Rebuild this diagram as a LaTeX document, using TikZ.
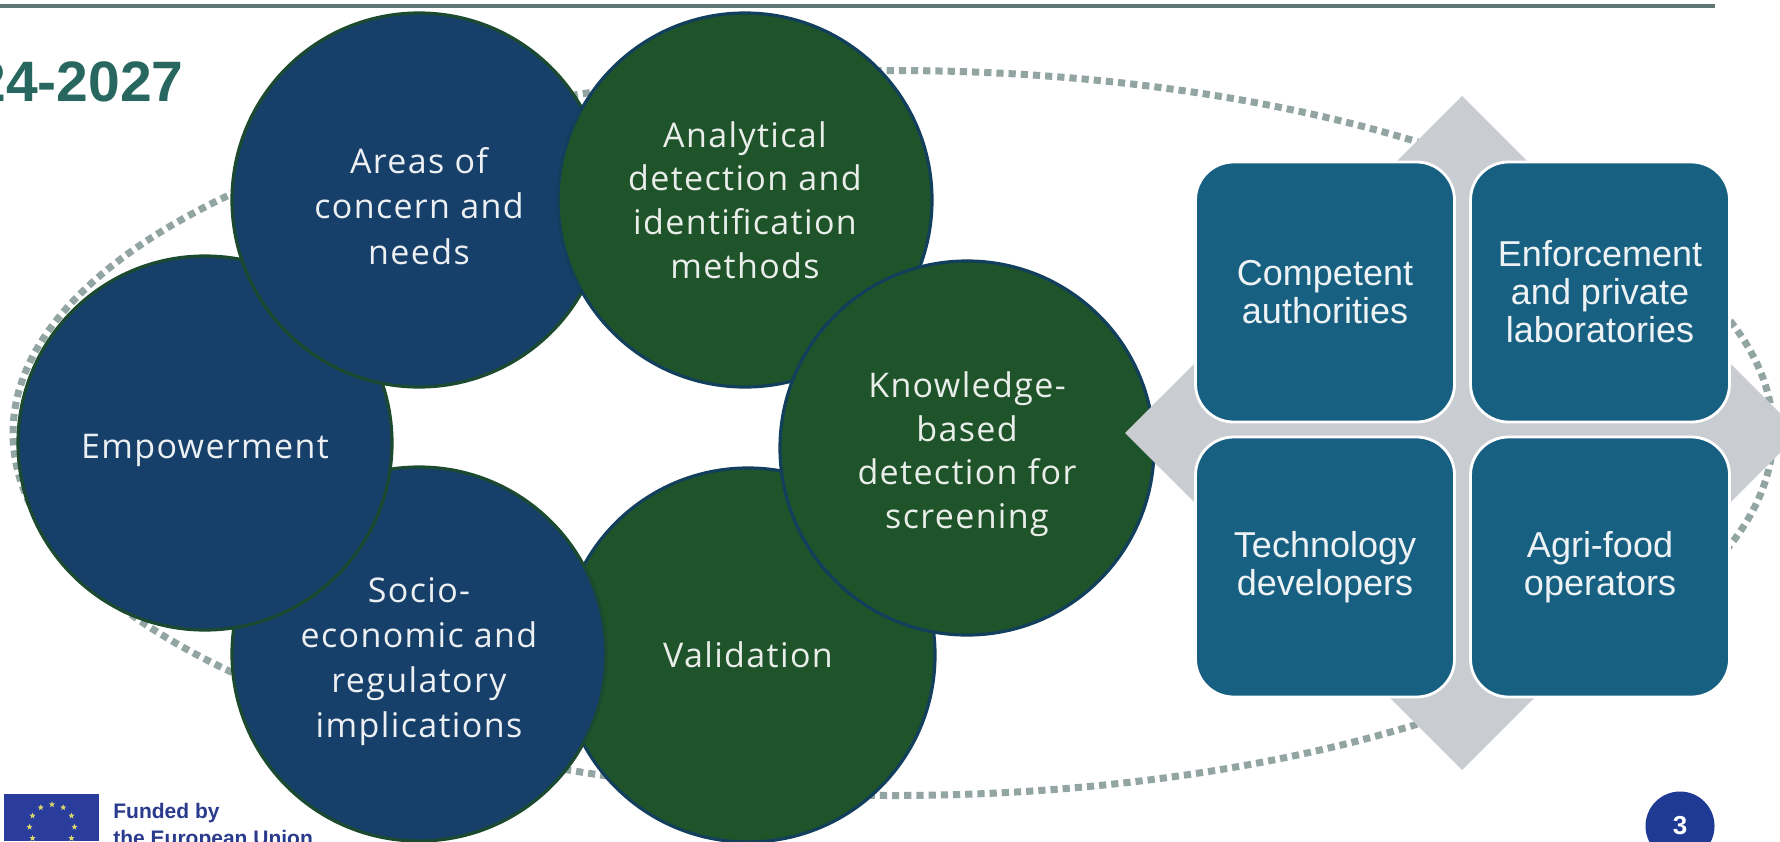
\documentclass[tikz,border=0pt]{standalone}
\usepackage{fontspec}
\usetikzlibrary{shapes.geometric}
\setmainfont{Liberation Sans}
\newfontfamily\circfont[LetterSpace=4]{Open Sans}
\definecolor{navyc}{HTML}{163F69}
\definecolor{greenc}{HTML}{1F5329}
\definecolor{edgegreen}{HTML}{1B4A30}
\definecolor{edgenavy}{HTML}{123F5C}
\definecolor{boxc}{HTML}{186082}
\definecolor{diamondc}{HTML}{C9CCD1}
\definecolor{dotc}{HTML}{93A5A3}
\definecolor{rulec}{HTML}{5F7772}
\definecolor{titlec}{HTML}{27675F}
\definecolor{eublue}{HTML}{2A3D9C}
\definecolor{eustar}{HTML}{D8D96A}
\definecolor{fundc}{HTML}{2A3A8C}
\definecolor{pagec}{HTML}{1F3A93}
\newcommand{\drop}[1]{\rule{0pt}{#1}}
\tikzset{
  ring/.style={circle,minimum size=187pt,inner sep=0pt,outer sep=0pt,line width=1.6pt,align=center,
    font=\fontsize{17pt}{21.8pt}\selectfont\circfont},
  navyring/.style={ring,fill=navyc,draw=edgegreen,text=white!92!navyc,
    font=\fontsize{17pt}{22.6pt}\selectfont\circfont},
  greenring/.style={ring,fill=greenc,draw=edgenavy,text=white!90!greenc},
  actor/.style={rectangle,rounded corners=19pt,minimum width=129.5pt,minimum height=130pt,inner sep=0pt,
    fill=boxc,draw=white,line width=1.4pt,align=center,text=white!92!boxc,
    font=\fontsize{18pt}{19pt}\selectfont},
  eustarshape/.style={star,star points=5,star point ratio=2.4,fill=eustar,inner sep=0pt,minimum size=3.2pt}
}
\begin{document}
\begin{tikzpicture}[x=0.5pt,y=-0.5pt]
\useasboundingbox (0,0) rectangle (1780,841);
\clip (0,0) rectangle (1780,841);
\fill[white] (0,0) rectangle (1780,841);
\fill[rulec] (0,4) rectangle (1715,7.5);
\node[anchor=base east,inner sep=0pt,text=titlec,font=\fontsize{28.5pt}{30pt}\selectfont\bfseries] (title) at (184,101) {24-2027};
% dotted orbit
\draw[dotc,line width=3.5pt,dash pattern=on 3.6pt off 2.5pt] (893,433) ellipse [x radius=880,y radius=362.5];
% diamond
\fill[diamondc] (1462,96) -- (1800,433) -- (1462,770) -- (1125,433) -- cycle;
% ring of circles
\node[greenring] (valid) at (748,655) {Validation};
\node[navyring] (socio) at (419,654) {\drop{20pt}Socio-\\economic and\\regulatory\\implications};
\node[navyring] (empower) at (205,443) {\drop{20pt}Empowerment};
\node[navyring] (areas) at (419,200) {\drop{19pt}Areas of\\concern and\\needs};
\node[greenring] (analytic) at (745,200) {Analytical\\detection and\\identification\\methods};
\node[greenring] (know) at (967,448) {\drop{19pt}Knowledge-\\based\\detection for\\screening};
\fill[diamondc] (1125,433) -- (1160,398) -- (1160,468) -- cycle;
% actors
\node[actor] (comp) at (1325,292) {Competent\\authorities};
\node[actor] (enforce) at (1600,292) {Enforcement\\and private\\laboratories};
\node[actor] (tech) at (1325,567) {Technology\\developers};
\node[actor] (agri) at (1600,567) {Agri-food\\operators};
% EU flag
\fill[eublue] (4,794) rectangle (99,841);
\foreach \a in {0,30,...,330}{
  \node[eustarshape] (star\a) at ({52+22.5*cos(\a)},{827+22.5*sin(\a)}) {};
}
\node[anchor=north west,inner sep=0pt,align=left,text=fundc,font=\fontsize{10.5pt}{13.5pt}\selectfont\bfseries] (funded) at (113,803) {Funded by\\the European Union};
% page number
\node[circle,fill=pagec,minimum size=34.5pt,inner sep=0pt,text=white,font=\fontsize{13pt}{14pt}\selectfont\bfseries] (page) at (1680,826) {3};
\end{tikzpicture}
\end{document}
